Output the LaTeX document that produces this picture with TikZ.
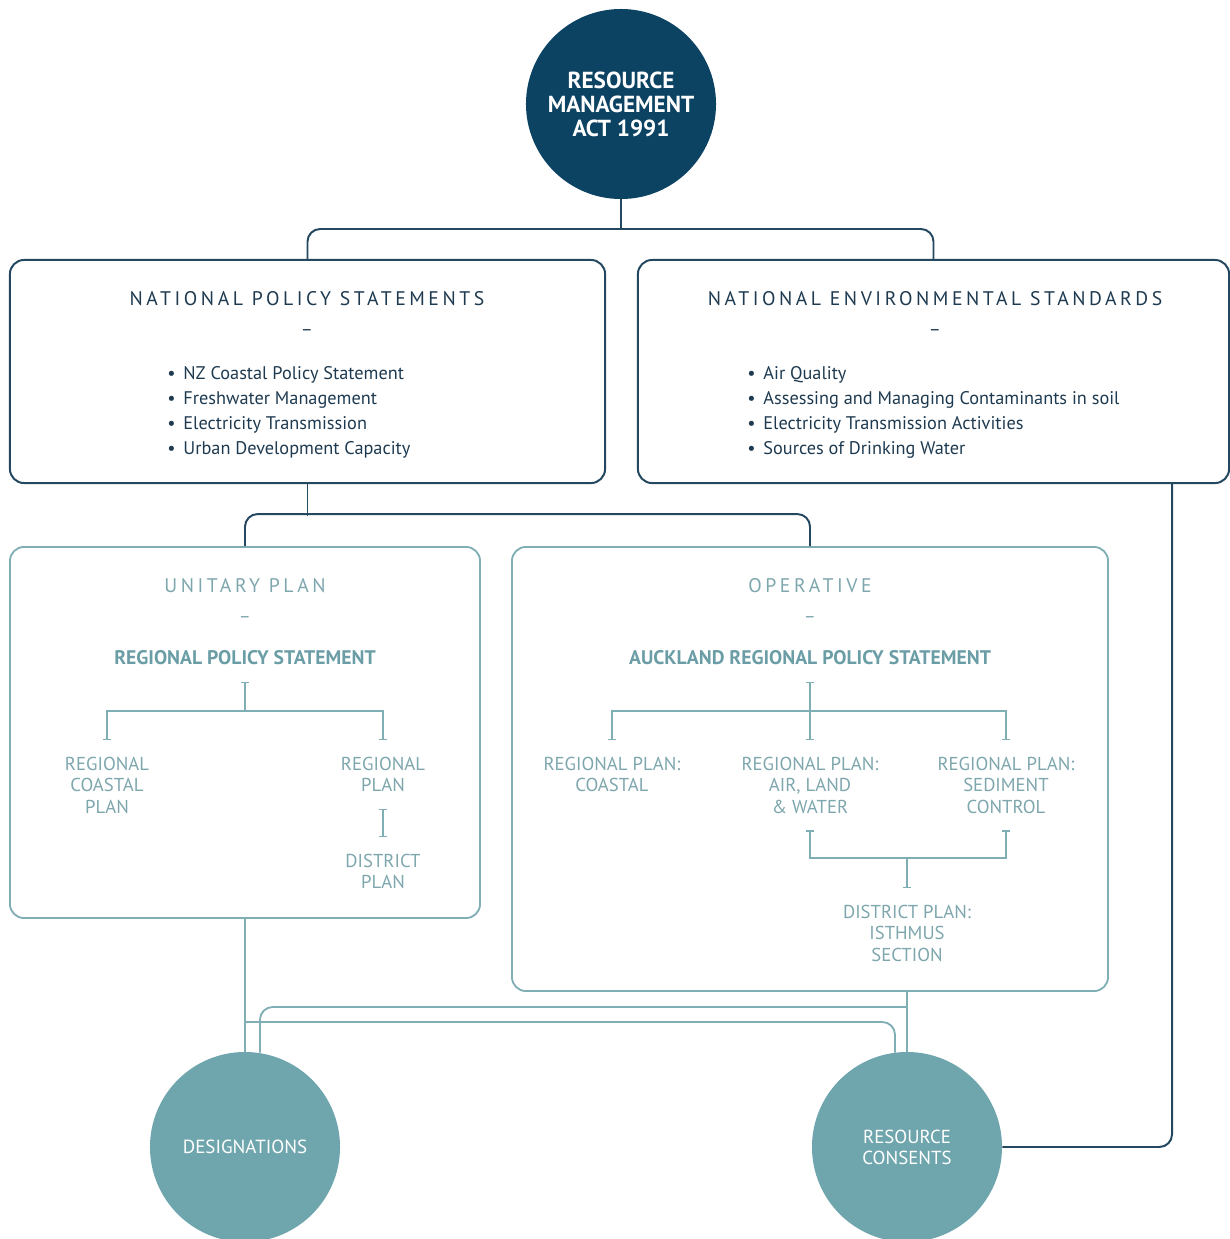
\documentclass[tikz,border=0pt]{standalone}
\usepackage{fontspec}
\setmainfont{PT Sans}
\newfontfamily\spacedfont{PT Sans}[LetterSpace=18]
\usetikzlibrary{arrows.meta,calc}

\definecolor{rmanavy}{RGB}{12,67,99}
\definecolor{navyline}{RGB}{36,72,96}
\definecolor{navytext}{RGB}{30,58,80}
\definecolor{tealfill}{RGB}{111,166,173}
\definecolor{tealline}{RGB}{128,174,181}
\definecolor{tealtext}{RGB}{125,166,173}
\definecolor{tealhead}{RGB}{106,157,165}

\tikzset{
  bigcircle/.style={circle, minimum size=4.75cm, inner sep=0pt, align=center, text=white},
  natbox/.style={draw=navyline, line width=1.4pt, rounded corners=10pt, minimum height=5.575cm},
  planbox/.style={draw=tealline, line width=1.3pt, rounded corners=10pt},
  navylink/.style={draw=navyline, line width=1.4pt, rounded corners=9pt},
  teallink/.style={draw=tealline, line width=1.3pt, rounded corners=9pt},
  tree/.style={draw=tealline, line width=0.9pt},
  tickboth/.style={tree, {Bar[width=5pt]}-{Bar[width=5pt]}},
  nattitle/.style={text=navytext, font=\spacedfont\fontsize{14}{16}\selectfont},
  plantitle/.style={text=tealtext, font=\spacedfont\fontsize{14}{16}\selectfont},
  natdash/.style={text=navytext, font=\fontsize{13}{15}\selectfont},
  plandash/.style={text=tealtext, font=\fontsize{13}{15}\selectfont},
  bullets/.style={text=navytext, align=left, anchor=west, inner sep=0pt,
    font=\fontsize{13}{17.8}\selectfont},
  head/.style={text=tealhead, inner sep=0pt, outer ysep=12pt,
    font=\bfseries\fontsize{14}{16}\selectfont},
  plan/.style={text=tealtext, align=center, inner sep=0pt, outer ysep=12pt,
    font=\fontsize{13.3}{15.3}\selectfont},
}
\newcommand{\bul}{\makebox[11.5pt][l]{\textbullet}}

\begin{document}
\begin{tikzpicture}[x=0.025cm, y=-0.025cm]
\useasboundingbox (0,0) rectangle (1230,1239);

% act at the top
\node[bigcircle, fill=rmanavy, font=\bfseries\fontsize{16.5}{17}\selectfont] (rma) at (621,104)
  {RESOURCE\\MANAGEMENT\\ACT 1991};

% national level
\node[natbox, minimum width=14.875cm] (nps) at (307.5,371.5) {};
\node[natbox, minimum width=14.775cm] (nes) at (933.5,371.5) {};

\node[nattitle] (npstitle) at (307,299) {NATIONAL POLICY STATEMENTS};
\node[natdash] (npsdash) at (307,333) {–};
\node[bullets] (npslist) at (167,412) {\bul NZ Coastal Policy Statement\\
  \bul Freshwater Management\\ \bul Electricity Transmission\\ \bul Urban Development Capacity};

\node[nattitle] (nestitle) at (935,299) {NATIONAL ENVIRONMENTAL STANDARDS};
\node[natdash] (nesdash) at (935,333) {–};
\node[bullets] (neslist) at (747,412) {\bul Air Quality\\
  \bul Assessing and Managing Contaminants in soil\\
  \bul Electricity Transmission Activities\\ \bul Sources of Drinking Water};

% plan level
\node[planbox, minimum width=11.75cm, minimum height=9.275cm] (unitary) at (245,732.5) {};
\node[planbox, minimum width=14.9cm, minimum height=11.1cm] (operative) at (810,769) {};

\node[plantitle] (uptitle) at (245,586) {UNITARY PLAN};
\node[plandash] (updash) at (245,620) {–};
\node[head] (rps) at (245,658) {REGIONAL POLICY STATEMENT};
\node[plan, anchor=north] (rcp) at (107,740) {REGIONAL\\COASTAL\\PLAN};
\node[plan, anchor=north] (rp) at (383,740) {REGIONAL\\PLAN};
\node[plan, anchor=north] (dp) at (383,837) {DISTRICT\\PLAN};

\node[plantitle] (optitle) at (810,586) {OPERATIVE};
\node[plandash] (opdash) at (810,620) {–};
\node[head] (arps) at (810,658) {AUCKLAND REGIONAL POLICY STATEMENT};
\node[plan, anchor=north] (rpcoast) at (612,740) {REGIONAL PLAN:\\COASTAL};
\node[plan, anchor=north] (rpalw) at (810,740) {REGIONAL PLAN:\\AIR, LAND\\\& WATER};
\node[plan, anchor=north] (rpsed) at (1006,740) {REGIONAL PLAN:\\SEDIMENT\\CONTROL};
\node[plan, anchor=north] (dpist) at (907,888) {DISTRICT PLAN:\\ISTHMUS\\SECTION};

% outcomes
\node[bigcircle, fill=tealfill, font=\fontsize{13.5}{15}\selectfont] (des) at (245,1147) {DESIGNATIONS};
\node[bigcircle, fill=tealfill, font=\fontsize{13.4}{15}\selectfont] (rc) at (907,1147) {RESOURCE\\CONSENTS};

% links between levels
\draw[navylink] (rma.south) -- ++(0,31);
\draw[navylink] (nps.north) -- ++(0,-30) -| (nes.north);
\draw[navylink] (nps.south) -- ++(0,32);
\draw[navylink] (unitary.north) -- ++(0,-32) -| (operative.north);
\draw[navylink] ($(nes.south east)+(-58,0)$) |- (rc.east);

% unitary plan tree
\coordinate (ujoin) at (245,711);
\draw[tree, {Bar[width=5pt]}-] (rps.south) -- (ujoin);
\draw[tickboth] (rcp.north) |- (ujoin) -| (rp.north);
\draw[tickboth] (rp.south) -- (dp.north);

% operative tree
\coordinate (ojoin) at (810,711);
\coordinate (djoin) at (907,858);
\draw[tickboth] (arps.south) -- (rpalw.north);
\draw[tickboth] (rpcoast.north) |- (ojoin) -| (rpsed.north);
\draw[tickboth] (rpalw.south) |- (djoin) -| (rpsed.south);
\draw[tree, -{Bar[width=5pt]}] (djoin) -- (dpist.north);

% down to designations and consents
\draw[teallink] (unitary.south) -- (des.north);
\draw[teallink] (rc.north |- operative.south) -- (rc.north);
\draw[teallink] ($(des.north)+(15,1)$) |- (rc.north |- 0,1007);
\draw[teallink] (des.north |- 0,1022) -| ($(rc.north)+(-12,1)$);
\end{tikzpicture}
\end{document}
